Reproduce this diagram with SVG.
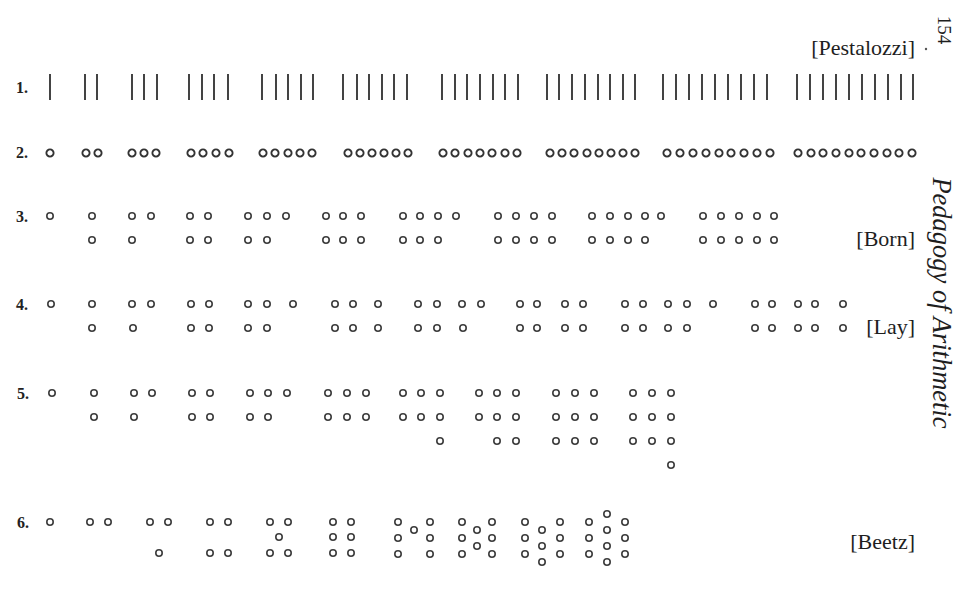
<svg xmlns="http://www.w3.org/2000/svg" xmlns:xlink="http://www.w3.org/1999/xlink" width="960" height="605" viewBox="0 0 960 605">
<style>
.bg{fill:#ffffff}
.t{stroke:#3a3a3a;stroke-width:1.9}
.dot{fill:none;stroke:#3c3c3c;stroke-width:1.6}
.dotb{fill:none;stroke:#333;stroke-width:1.9}
.lbl{font-family:"Liberation Serif","DejaVu Serif",serif;font-size:16px;fill:#222;font-weight:bold}
.src{font-family:"Liberation Serif","DejaVu Serif",serif;font-size:22px;fill:#1e1e1e;text-anchor:end}
.side{font-family:"Liberation Serif","DejaVu Serif",serif;font-size:26.5px;fill:#1e1e1e;font-style:italic;text-anchor:middle}
.pg{font-family:"Liberation Serif","DejaVu Serif",serif;font-size:19px;fill:#1e1e1e;text-anchor:middle}
</style>
<defs>
<circle id="o" r="3.2" class="dot"/>
<circle id="ob" r="3.6" class="dotb"/>
<path id="s" d="M0,74V100" class="t"/>
</defs>
<rect class="bg" width="960" height="605"/>

<g id="margin">
<text class="pg" transform="translate(938,30) rotate(90)">154</text>
<text class="side" transform="translate(933,303) rotate(90)">Pedagogy of Arithmetic</text>
<circle cx="926" cy="49" r="1.2" fill="#555"/>
</g>

<g id="row1">
<text class="lbl" x="16" y="93">1.</text>
<text class="src" x="915" y="55">[Pestalozzi]</text>
<use href="#s" x="50"/>
<use href="#s" x="85"/><use href="#s" x="97"/>
<use href="#s" x="132"/><use href="#s" x="144"/><use href="#s" x="157"/>
<use href="#s" x="189"/><use href="#s" x="202"/><use href="#s" x="214"/><use href="#s" x="228"/>
<use href="#s" x="262"/><use href="#s" x="276"/><use href="#s" x="288"/><use href="#s" x="301"/><use href="#s" x="313"/>
<use href="#s" x="343"/><use href="#s" x="357"/><use href="#s" x="369"/><use href="#s" x="382"/><use href="#s" x="394"/><use href="#s" x="407"/>
<use href="#s" x="442"/><use href="#s" x="455"/><use href="#s" x="467"/><use href="#s" x="480"/><use href="#s" x="493"/><use href="#s" x="505"/><use href="#s" x="518"/>
<use href="#s" x="547"/><use href="#s" x="559"/><use href="#s" x="572"/><use href="#s" x="585"/><use href="#s" x="598"/><use href="#s" x="610"/><use href="#s" x="623"/><use href="#s" x="635"/>
<use href="#s" x="663"/><use href="#s" x="676"/><use href="#s" x="689"/><use href="#s" x="702"/><use href="#s" x="715"/><use href="#s" x="728"/><use href="#s" x="741"/><use href="#s" x="754"/><use href="#s" x="767"/>
<use href="#s" x="797"/><use href="#s" x="810"/><use href="#s" x="823"/><use href="#s" x="836"/><use href="#s" x="849"/><use href="#s" x="862"/><use href="#s" x="875"/><use href="#s" x="888"/><use href="#s" x="901"/><use href="#s" x="913"/>
</g>

<g id="row2">
<text class="lbl" x="16" y="158">2.</text>
<use href="#ob" x="50" y="153"/>
<use href="#ob" x="86" y="153"/><use href="#ob" x="98" y="153"/>
<use href="#ob" x="132" y="153"/><use href="#ob" x="144" y="153"/><use href="#ob" x="156" y="153"/>
<use href="#ob" x="191" y="153"/><use href="#ob" x="203" y="153"/><use href="#ob" x="216" y="153"/><use href="#ob" x="229" y="153"/>
<use href="#ob" x="263" y="153"/><use href="#ob" x="275" y="153"/><use href="#ob" x="288" y="153"/><use href="#ob" x="300" y="153"/><use href="#ob" x="312" y="153"/>
<use href="#ob" x="348" y="153"/><use href="#ob" x="360" y="153"/><use href="#ob" x="372" y="153"/><use href="#ob" x="384" y="153"/><use href="#ob" x="396" y="153"/><use href="#ob" x="408" y="153"/>
<use href="#ob" x="443" y="153"/><use href="#ob" x="455" y="153"/><use href="#ob" x="468" y="153"/><use href="#ob" x="480" y="153"/><use href="#ob" x="492" y="153"/><use href="#ob" x="505" y="153"/><use href="#ob" x="517" y="153"/>
<use href="#ob" x="550" y="153"/><use href="#ob" x="562" y="153"/><use href="#ob" x="574" y="153"/><use href="#ob" x="587" y="153"/><use href="#ob" x="599" y="153"/><use href="#ob" x="611" y="153"/><use href="#ob" x="623" y="153"/><use href="#ob" x="635" y="153"/>
<use href="#ob" x="667" y="153"/><use href="#ob" x="680" y="153"/><use href="#ob" x="693" y="153"/><use href="#ob" x="706" y="153"/><use href="#ob" x="719" y="153"/><use href="#ob" x="731" y="153"/><use href="#ob" x="744" y="153"/><use href="#ob" x="757" y="153"/><use href="#ob" x="770" y="153"/>
<use href="#ob" x="798" y="153"/><use href="#ob" x="811" y="153"/><use href="#ob" x="823" y="153"/><use href="#ob" x="836" y="153"/><use href="#ob" x="849" y="153"/><use href="#ob" x="861" y="153"/><use href="#ob" x="874" y="153"/><use href="#ob" x="887" y="153"/><use href="#ob" x="899" y="153"/><use href="#ob" x="912" y="153"/>
</g>

<g id="row3">
<text class="lbl" x="16" y="222">3.</text>
<text class="src" x="915" y="246">[Born]</text>
<use href="#o" x="50" y="216"/>
<use href="#o" x="92" y="216"/><use href="#o" x="92" y="240"/>
<use href="#o" x="132" y="216"/><use href="#o" x="151" y="216"/><use href="#o" x="132" y="240"/>
<use href="#o" x="190" y="216"/><use href="#o" x="208" y="216"/><use href="#o" x="190" y="240"/><use href="#o" x="208" y="240"/>
<use href="#o" x="248" y="216"/><use href="#o" x="267" y="216"/><use href="#o" x="286" y="216"/><use href="#o" x="248" y="240"/><use href="#o" x="267" y="240"/>
<use href="#o" x="326" y="216"/><use href="#o" x="343" y="216"/><use href="#o" x="361" y="216"/><use href="#o" x="326" y="240"/><use href="#o" x="343" y="240"/><use href="#o" x="361" y="240"/>
<use href="#o" x="403" y="216"/><use href="#o" x="420" y="216"/><use href="#o" x="438" y="216"/><use href="#o" x="456" y="216"/><use href="#o" x="403" y="240"/><use href="#o" x="420" y="240"/><use href="#o" x="438" y="240"/>
<use href="#o" x="498" y="216"/><use href="#o" x="516" y="216"/><use href="#o" x="534" y="216"/><use href="#o" x="552" y="216"/><use href="#o" x="498" y="240"/><use href="#o" x="516" y="240"/><use href="#o" x="534" y="240"/><use href="#o" x="552" y="240"/>
<use href="#o" x="592" y="216"/><use href="#o" x="610" y="216"/><use href="#o" x="628" y="216"/><use href="#o" x="645" y="216"/><use href="#o" x="661" y="216"/><use href="#o" x="592" y="240"/><use href="#o" x="610" y="240"/><use href="#o" x="628" y="240"/><use href="#o" x="645" y="240"/>
<use href="#o" x="703" y="216"/><use href="#o" x="721" y="216"/><use href="#o" x="739" y="216"/><use href="#o" x="757" y="216"/><use href="#o" x="774" y="216"/><use href="#o" x="703" y="240"/><use href="#o" x="721" y="240"/><use href="#o" x="739" y="240"/><use href="#o" x="757" y="240"/><use href="#o" x="774" y="240"/>
</g>

<g id="row4">
<text class="lbl" x="16" y="310">4.</text>
<text class="src" x="915" y="334">[Lay]</text>
<use href="#o" x="51" y="304"/>
<use href="#o" x="92" y="304"/><use href="#o" x="92" y="328"/>
<use href="#o" x="132" y="304"/><use href="#o" x="151" y="304"/><use href="#o" x="133" y="328"/>
<use href="#o" x="191" y="304"/><use href="#o" x="209" y="304"/><use href="#o" x="191" y="328"/><use href="#o" x="209" y="328"/>
<use href="#o" x="248" y="304"/><use href="#o" x="267" y="304"/><use href="#o" x="293" y="304"/><use href="#o" x="248" y="328"/><use href="#o" x="267" y="328"/>
<use href="#o" x="335" y="304"/><use href="#o" x="353" y="304"/><use href="#o" x="378" y="304"/><use href="#o" x="335" y="328"/><use href="#o" x="353" y="328"/><use href="#o" x="378" y="328"/>
<use href="#o" x="418" y="304"/><use href="#o" x="437" y="304"/><use href="#o" x="462" y="304"/><use href="#o" x="481" y="304"/><use href="#o" x="418" y="328"/><use href="#o" x="437" y="328"/><use href="#o" x="463" y="328"/>
<use href="#o" x="520" y="304"/><use href="#o" x="537" y="304"/><use href="#o" x="565" y="304"/><use href="#o" x="583" y="304"/><use href="#o" x="520" y="328"/><use href="#o" x="537" y="328"/><use href="#o" x="565" y="328"/><use href="#o" x="583" y="328"/>
<use href="#o" x="625" y="304"/><use href="#o" x="643" y="304"/><use href="#o" x="668" y="304"/><use href="#o" x="687" y="304"/><use href="#o" x="713" y="304"/><use href="#o" x="625" y="328"/><use href="#o" x="643" y="328"/><use href="#o" x="668" y="328"/><use href="#o" x="687" y="328"/>
<use href="#o" x="755" y="304"/><use href="#o" x="772" y="304"/><use href="#o" x="798" y="304"/><use href="#o" x="815" y="304"/><use href="#o" x="843" y="304"/><use href="#o" x="755" y="328"/><use href="#o" x="772" y="328"/><use href="#o" x="798" y="328"/><use href="#o" x="815" y="328"/><use href="#o" x="843" y="328"/>
</g>

<g id="row5">
<text class="lbl" x="17" y="399">5.</text>
<use href="#o" x="52" y="393"/>
<use href="#o" x="94" y="393"/><use href="#o" x="94" y="417"/>
<use href="#o" x="134" y="393"/><use href="#o" x="152" y="393"/><use href="#o" x="134" y="417"/>
<use href="#o" x="192" y="393"/><use href="#o" x="210" y="393"/><use href="#o" x="192" y="417"/><use href="#o" x="210" y="417"/>
<use href="#o" x="250" y="393"/><use href="#o" x="268" y="393"/><use href="#o" x="287" y="393"/><use href="#o" x="250" y="417"/><use href="#o" x="268" y="417"/>
<use href="#o" x="328" y="393"/><use href="#o" x="347" y="393"/><use href="#o" x="366" y="393"/><use href="#o" x="328" y="417"/><use href="#o" x="347" y="417"/><use href="#o" x="366" y="417"/>
<use href="#o" x="403" y="393"/><use href="#o" x="421" y="393"/><use href="#o" x="440" y="393"/><use href="#o" x="403" y="417"/><use href="#o" x="421" y="417"/><use href="#o" x="440" y="417"/><use href="#o" x="440" y="441"/>
<use href="#o" x="479" y="393"/><use href="#o" x="497" y="393"/><use href="#o" x="516" y="393"/><use href="#o" x="479" y="417"/><use href="#o" x="497" y="417"/><use href="#o" x="516" y="417"/><use href="#o" x="497" y="441"/><use href="#o" x="516" y="441"/>
<use href="#o" x="556" y="393"/><use href="#o" x="575" y="393"/><use href="#o" x="594" y="393"/><use href="#o" x="556" y="417"/><use href="#o" x="575" y="417"/><use href="#o" x="594" y="417"/><use href="#o" x="556" y="441"/><use href="#o" x="575" y="441"/><use href="#o" x="594" y="441"/>
<use href="#o" x="633" y="393"/><use href="#o" x="652" y="393"/><use href="#o" x="671" y="393"/><use href="#o" x="633" y="417"/><use href="#o" x="652" y="417"/><use href="#o" x="671" y="417"/><use href="#o" x="633" y="441"/><use href="#o" x="652" y="441"/><use href="#o" x="671" y="441"/><use href="#o" x="671" y="465"/>
</g>

<g id="row6">
<text class="lbl" x="17" y="528">6.</text>
<text class="src" x="915" y="549">[Beetz]</text>
<use href="#o" x="50" y="522"/>
<use href="#o" x="90" y="522"/><use href="#o" x="108" y="522"/>
<use href="#o" x="150" y="522"/><use href="#o" x="168" y="522"/><use href="#o" x="159" y="553"/>
<use href="#o" x="210" y="522"/><use href="#o" x="228" y="522"/><use href="#o" x="210" y="553"/><use href="#o" x="228" y="553"/>
<use href="#o" x="270" y="522"/><use href="#o" x="288" y="522"/><use href="#o" x="279" y="537"/><use href="#o" x="270" y="553"/><use href="#o" x="288" y="553"/>
<use href="#o" x="333" y="522"/><use href="#o" x="351" y="522"/><use href="#o" x="333" y="537"/><use href="#o" x="351" y="537"/><use href="#o" x="333" y="553"/><use href="#o" x="351" y="553"/>
<use href="#o" x="398" y="522"/><use href="#o" x="430" y="522"/><use href="#o" x="414" y="530"/><use href="#o" x="398" y="538"/><use href="#o" x="430" y="538"/><use href="#o" x="398" y="554"/><use href="#o" x="430" y="554"/>
<use href="#o" x="462" y="522"/><use href="#o" x="492" y="522"/><use href="#o" x="477" y="530"/><use href="#o" x="462" y="538"/><use href="#o" x="492" y="538"/><use href="#o" x="477" y="546"/><use href="#o" x="462" y="554"/><use href="#o" x="492" y="554"/>
<use href="#o" x="525" y="522"/><use href="#o" x="560" y="522"/><use href="#o" x="542" y="530"/><use href="#o" x="525" y="538"/><use href="#o" x="560" y="538"/><use href="#o" x="542" y="546"/><use href="#o" x="525" y="554"/><use href="#o" x="560" y="554"/><use href="#o" x="542" y="562"/>
<use href="#o" x="607" y="514"/><use href="#o" x="589" y="522"/><use href="#o" x="625" y="522"/><use href="#o" x="607" y="530"/><use href="#o" x="589" y="538"/><use href="#o" x="625" y="538"/><use href="#o" x="607" y="546"/><use href="#o" x="589" y="554"/><use href="#o" x="625" y="554"/><use href="#o" x="607" y="562"/>
</g>
</svg>
